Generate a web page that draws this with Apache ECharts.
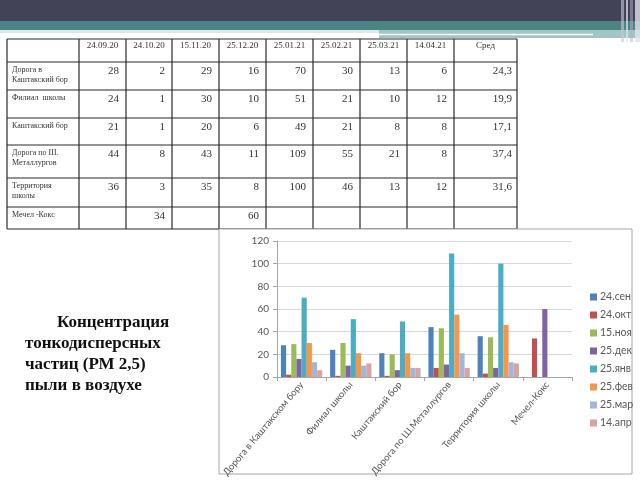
<!DOCTYPE html>
<html><head><meta charset="utf-8">
<script src="https://cdn.jsdelivr.net/npm/echarts@6/dist/echarts.min.js"></script>
<style>html,body{margin:0;padding:0;background:#fff}#c{width:640px;height:480px}</style>
</head><body><div id="c"></div>
<script>
// ---- data ----
const categories = ['Дорога в Каштакском бору','Филиал школы','Каштакский бор','Дорога по Ш.Металлургов','Территория школы','Мечел-Кокс'];
const seriesNames = ['24.сен','24.окт','15.ноя','25.дек','25.янв','25.фев','25.мар','14.апр'];
const v24sen = [28, 24, 21, 44, 36, null];
const v24okt = [2, 1, 1, 8, 3, 34];
const v15noya = [29, 30, 20, 43, 35, null];
const v25dek = [16, 10, 6, 11, 8, 60];
const v25yanv = [70, 51, 49, 109, 100, null];
const v25fev = [30, 21, 21, 55, 46, null];
const v25mar = [13, 10, 8, 21, 13, null];
const v14apr = [6, 12, 8, 8, 12, null];
const yTicks = [0, 20, 40, 60, 80, 100, 120];
const tableDates = ['24.09.20','24.10.20','15.11.20','25.12.20','25.01.21','25.02.21','25.03.21','14.04.21'];
const tableAvgHeader = 'Сред';
const tableRowLabels = [['Дорога в','Каштакский бор'],['Филиал  школы'],['Каштакский бор'],['Дорога по Ш.','Металлургов'],['Территория','школы'],['Мечел -Кокс']];
const tableAverages = ['24,3','19,9','17,1','37,4','31,6',''];
const titleLines = ['Концентрация','тонкодисперсных','частиц (РМ 2,5)','пыли в воздухе'];

// ---- layout / style ----
const allSeries = [v24sen, v24okt, v15noya, v25dek, v25yanv, v25fev, v25mar, v14apr];
const colors = ['#4F81BD','#C0504D','#9BBB59','#8064A2','#4BACC6','#F79646','#A3B5DB','#D9A3A2'];
const colX = [7, 79, 126, 172, 219, 266, 313, 360, 407, 454, 517];
const rowY = [39, 62, 90, 118, 145, 178, 207, 229];
const box = {x: 219, y: 229, w: 413, h: 245};

const g = [];
// slide decoration
g.push({type:'rect', shape:{x:0,y:0,width:640,height:21}, style:{fill:'#434358'}});
g.push({type:'rect', shape:{x:0,y:21,width:640,height:9}, style:{fill:'#4A8583'}});
g.push({type:'rect', shape:{x:0,y:30,width:379,height:3}, style:{fill:'#DCE9E9'}});
g.push({type:'rect', shape:{x:379,y:30,width:261,height:8}, style:{fill:'#9FC6C5'}});
g.push({type:'line', shape:{x1:379,y1:34.5,x2:593,y2:34.5}, style:{stroke:'#ffffff',lineWidth:1.5}});
[[621,3,'rgba(200,200,215,0.6)'],[626,2,'rgba(230,230,240,0.7)'],[630,3,'rgba(180,180,200,0.5)'],[635,5,'rgba(225,225,235,0.8)']].forEach(s=>{
  g.push({type:'rect', shape:{x:s[0],y:0,width:s[1],height:42}, style:{fill:s[2]}});
});
// table
const lineStyle = {stroke:'#2a2a2a', lineWidth:1.2};
rowY.forEach(y=>g.push({type:'line', shape:{x1:colX[0],y1:y,x2:colX[colX.length-1],y2:y}, style:lineStyle}));
colX.forEach(x=>g.push({type:'line', shape:{x1:x,y1:rowY[0],x2:x,y2:rowY[rowY.length-1]}, style:lineStyle}));
const serif = '"Liberation Serif", "DejaVu Serif", serif';
tableDates.concat([tableAvgHeader]).forEach((t,i)=>{
  g.push({type:'text', x:(colX[i+1]+colX[i+2])/2, y:rowY[0]+7, style:{text:t, font:'9px '+serif, fill:'#333', textAlign:'center', textVerticalAlign:'middle'}});
});
tableRowLabels.forEach((lines,r)=>{
  lines.forEach((t,k)=>{
    g.push({type:'text', x:colX[0]+5, y:rowY[r+1]+8+k*10, style:{text:t, font:'8px '+serif, fill:'#333', textAlign:'left', textVerticalAlign:'middle'}});
  });
  allSeries.forEach((s,c)=>{
    const v = s[r];
    if (v !== null) g.push({type:'text', x:colX[c+2]-7, y:rowY[r+1]+9, style:{text:String(v), font:'11px '+serif, fill:'#333', textAlign:'right', textVerticalAlign:'middle'}});
  });
  if (tableAverages[r]) g.push({type:'text', x:colX[10]-5, y:rowY[r+1]+9, style:{text:tableAverages[r], font:'11px '+serif, fill:'#333', textAlign:'right', textVerticalAlign:'middle'}});
});
// chart box
g.push({type:'rect', shape:{x:box.x,y:box.y,width:box.w,height:box.h}, style:{fill:'#fff', stroke:'#A6A6A6', lineWidth:1}});
// title text
titleLines.forEach((t,i)=>{
  g.push({type:'text', x: i===0 ? 57 : 25, y: 323 + i*21, style:{text:t, font:'bold 17px '+serif, fill:'#111', textAlign:'left', textVerticalAlign:'middle'}});
});

const chart = echarts.init(document.getElementById('c'), null, {renderer:'canvas'});
const sans = 'Lato, "Open Sans", sans-serif';
chart.setOption({
  animation:false,
  color: colors,
  graphic: {elements: g},
  grid: {left:277, top:241, width:295, height:136, containLabel:false},
  legend: {orient:'vertical', left:585, top:286, itemWidth:7, itemHeight:7, itemGap:6, icon:'rect',
    textStyle:{fontSize:10.5, lineHeight:12, color:'#595959', fontFamily:sans, padding:[0,0,0,-2]}, data: seriesNames},
  xAxis: {type:'category', data:categories, z:3,
    axisLine:{lineStyle:{color:'#A6A6A6'}}, axisTick:{show:true, length:4, lineStyle:{color:'#A6A6A6'}},
    axisLabel:{rotate:50, fontSize:9.5, color:'#555', fontFamily:sans, margin:6, interval:0}},
  yAxis: {type:'value', min:yTicks[0], max:yTicks[yTicks.length-1], interval:20, z:3,
    axisLine:{show:true, lineStyle:{color:'#A6A6A6'}}, axisTick:{show:true, length:4, lineStyle:{color:'#A6A6A6'}},
    splitLine:{lineStyle:{color:'#D9D9D9'}},
    axisLabel:{fontSize:10, color:'#555', fontFamily:sans, margin:8}},
  series: seriesNames.map((n,i)=>({name:n, type:'bar', data:allSeries[i], barGap:'0%', barCategoryGap:'16%', z:4}))
});
</script></body></html>
